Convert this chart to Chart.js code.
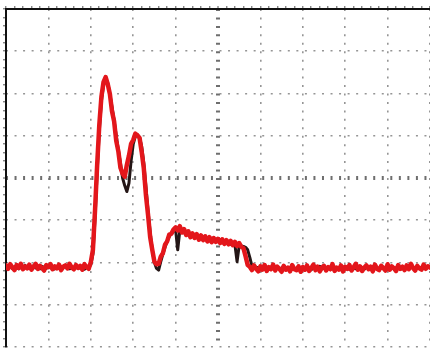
<!DOCTYPE html>
<html>
<head>
<meta charset="utf-8">
<script src="https://cdn.jsdelivr.net/npm/chart.js@4/dist/chart.umd.min.js"></script>
<style>
  html, body { margin: 0; padding: 0; background: #fff; overflow: hidden; }
  canvas { display: block; }
</style>
</head>
<body>
<canvas id="scope" width="430" height="348"></canvas>
<script>
// Screen geometry: 10 horizontal divisions, 8 vertical divisions.
const DIVS_X = 10;
const DIVS_Y = 8;
// Acquisition step, in divisions per sample.
const SAMPLE_STEP = 0.05;

// Channel traces, vertical position in divisions (0 = bottom of screen).
const redTrace = [
  1.93,1.85,1.96,1.88,1.82,1.94,1.87,1.97,1.84,1.91,
  1.86,1.95,1.83,1.90,1.97,1.85,1.92,1.87,1.81,1.94,
  1.89,1.96,1.84,1.91,1.86,1.95,1.82,1.90,1.93,1.86,
  1.97,1.88,1.84,1.94,1.87,1.92,1.83,1.96,1.89,1.85,
  2.01,2.30,3.24,4.31,5.25,5.92,6.27,6.39,6.22,5.99,
  5.58,5.34,4.88,4.63,4.24,4.10,4.03,4.31,4.53,4.81,
  4.90,5.05,5.01,4.95,4.62,4.23,3.60,3.13,2.60,2.30,
  2.02,1.96,1.97,2.14,2.22,2.42,2.50,2.66,2.68,2.78,
  2.83,2.76,2.86,2.71,2.79,2.65,2.74,2.60,2.69,2.58,
  2.67,2.54,2.64,2.53,2.62,2.50,2.60,2.48,2.58,2.49,
  2.56,2.46,2.55,2.44,2.53,2.43,2.51,2.41,2.49,2.39,
  2.46,2.37,2.34,2.15,1.94,1.90,1.82,1.93,1.85,1.79,
  1.91,1.83,1.94,1.80,1.89,1.84,1.95,1.81,1.90,1.85,
  1.78,1.92,1.83,1.88,1.79,1.94,1.84,1.82,1.91,1.78,
  1.89,1.83,1.93,1.80,1.87,1.95,1.82,1.90,1.79,1.88,
  1.92,1.81,1.89,1.84,1.96,1.80,1.88,1.83,1.93,1.79,
  1.90,1.85,1.94,1.81,1.89,1.97,1.83,1.91,1.80,1.88,
  1.93,1.84,1.90,1.79,1.95,1.85,1.82,1.92,1.87,1.81,
  1.96,1.83,1.91,1.86,1.80,1.94,1.85,1.90,1.82,1.93,
  1.84,1.97,1.87,1.81,1.92,1.86,1.83,1.95,1.85,1.91,
  1.88
];

const blackTrace = [
  1.89,1.87,1.92,1.86,1.90,1.88,1.85,1.91,1.87,1.93,
  1.88,1.86,1.90,1.92,1.87,1.89,1.85,1.91,1.88,1.86,
  1.92,1.87,1.90,1.85,1.89,1.93,1.86,1.88,1.91,1.87,
  1.85,1.90,1.88,1.92,1.86,1.89,1.87,1.84,1.90,1.88,
  1.95,2.20,3.05,4.15,5.10,5.82,6.20,6.35,6.25,5.98,
  5.68,5.36,5.00,4.66,4.35,4.00,3.82,3.68,3.88,4.40,
  4.80,4.98,5.02,4.96,4.75,4.35,3.80,3.22,2.72,2.30,
  2.00,1.86,1.82,2.02,2.20,2.36,2.50,2.61,2.69,2.74,
  2.78,2.30,2.76,2.74,2.70,2.68,2.66,2.64,2.62,2.61,
  2.60,2.58,2.57,2.56,2.55,2.54,2.53,2.52,2.51,2.50,
  2.49,2.48,2.47,2.46,2.45,2.44,2.43,2.42,2.41,2.02,
  2.40,2.39,2.38,2.36,2.30,2.12,1.92,1.86,1.89,1.87,
  1.88,1.86,1.90,1.87,1.85,1.89,1.91,1.86,1.88,1.84,
  1.87,1.90,1.85,1.88,1.86,1.91,1.87,1.84,1.89,1.86,
  1.88,1.85,1.90,1.87,1.83,1.89,1.86,1.88,1.91,1.85,
  1.87,1.84,1.89,1.86,1.90,1.85,1.88,1.87,1.83,1.89,
  1.86,1.90,1.84,1.88,1.87,1.85,1.91,1.86,1.88,1.84,
  1.89,1.87,1.85,1.90,1.86,1.88,1.84,1.87,1.89,1.86,
  1.88,1.85,1.90,1.86,1.87,1.89,1.84,1.88,1.86,1.87,
  1.88
];

const toPoints = arr => arr.map((y, i) => ({ x: i * SAMPLE_STEP, y }));

const isMajor = v => Math.abs(v - Math.round(v)) < 1e-3;

// Graticule: dotted major lines, tick-marked centre cross, minor lines hidden.
function gridColor(center) {
  return ctx => {
    const v = ctx.tick ? ctx.tick.value : null;
    if (v === null || !isMajor(v)) return 'rgba(0,0,0,0)';
    return Math.round(v) === center ? '#6e6e6e' : '#959595';
  };
}
function gridWidth(center) {
  return ctx => {
    const v = ctx.tick ? ctx.tick.value : null;
    if (v !== null && isMajor(v) && Math.round(v) === center) return 4;
    return 1.6;
  };
}
function gridDash(gap) {
  return ctx => (ctx.tick ? [2, gap] : []);
}

new Chart(document.getElementById('scope'), {
  type: 'line',
  data: {
    datasets: [
      {
        label: 'CH2',
        data: toPoints(redTrace),
        borderColor: '#e3161b',
        borderWidth: 4.5,
        pointRadius: 0,
        tension: 0,
        borderJoinStyle: 'round',
        borderCapStyle: 'round'
      },
      {
        label: 'CH1',
        data: toPoints(blackTrace),
        borderColor: '#241616',
        borderWidth: 3,
        pointRadius: 0,
        tension: 0,
        borderJoinStyle: 'round'
      }
    ]
  },
  options: {
    responsive: false,
    animation: false,
    events: [],
    layout: { padding: { left: 3, top: 6, right: -3, bottom: 1 } },
    plugins: { legend: { display: false }, tooltip: { enabled: false } },
    scales: {
      x: {
        type: 'linear',
        position: 'top',
        min: 0,
        max: DIVS_X,
        ticks: { display: false, stepSize: 0.2 },
        grid: {
          color: gridColor(5),
          lineWidth: gridWidth(5),
          drawTicks: true,
          tickLength: 3,
          tickColor: '#555',
          tickWidth: 1
        },
        border: { display: true, color: '#111', width: 2, dash: gridDash(6.45), dashOffset: 1 }
      },
      y: {
        type: 'linear',
        position: 'left',
        min: 0,
        max: DIVS_Y,
        ticks: { display: false, stepSize: 0.2 },
        grid: {
          color: gridColor(4),
          lineWidth: gridWidth(4),
          drawTicks: true,
          tickLength: 3,
          tickColor: '#555',
          tickWidth: 1
        },
        border: { display: true, color: '#111', width: 2, dash: gridDash(6.54), dashOffset: 1 }
      }
    }
  }
});
</script>
</body>
</html>
